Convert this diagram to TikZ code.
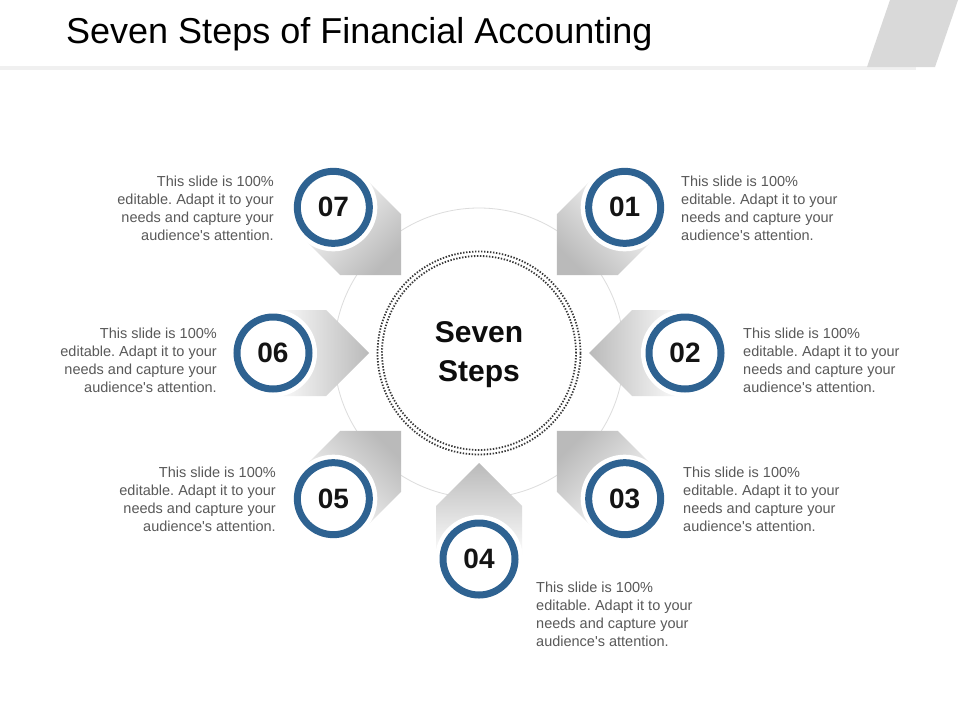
\documentclass[tikz,border=0pt]{standalone}
\usepackage{fontspec}
\setmainfont{Liberation Sans}
\usetikzlibrary{calc}
\frenchspacing
\definecolor{ringblue}{RGB}{46,98,145}
\definecolor{bodygray}{RGB}{89,89,89}
\definecolor{bandgray}{RGB}{240,240,240}
\definecolor{tabgray}{RGB}{217,217,217}
\definecolor{arcgray}{RGB}{220,220,220}
\definecolor{tipgray}{RGB}{186,186,186}
\definecolor{dotgray}{RGB}{55,55,55}
\begin{document}
\frenchspacing
\begin{tikzpicture}[x=1pt,y=1pt,
  bodytext/.style={text=bodygray, font=\fontsize{14.5}{18}\selectfont, inner sep=0pt},
  numlabel/.style={circle, draw=ringblue, line width=7pt, fill=white, minimum size=72pt, inner sep=0pt,
                   font=\fontsize{28}{30}\selectfont\bfseries, text=black!92},
  halo/.style={fill=white},
  pointer/.style={draw=none},
  dotring/.style={dotgray, line width=1.8pt, dash pattern=on 1.4pt off 1.6pt}]
\useasboundingbox (0,0) rectangle (960,-720);
\fill[white] (0,0) rectangle (960,-720);
\coordinate (C) at (479,-353);
% header
\fill[bandgray] (0,-66) rectangle (916,-70);
\fill[tabgray] (890,0) -- (958,0) -- (935,-67) -- (867,-67) -- cycle;
\node[anchor=base west, inner sep=0pt, font=\fontsize{36}{40}\selectfont] (title) at (66,-43) {Seven Steps of Financial Accounting};
% thin ring
\draw[arcgray, line width=0.8pt] (C) circle (145);
% pointers
\foreach \a [evaluate=\a as \sa using \a-90] in {45,0,-45,-90,-135,180,135}{
  \shade[pointer, bottom color=tipgray, top color=white, shading angle=\sa]
   ($(C)+(\a:110)$) -- ($(C)+(\a:153)+(\a+90:43)$) -- ($(C)+(\a:206)+(\a+90:43)$)
   -- ($(C)+(\a:206)+(\a-90:43)$) -- ($(C)+(\a:153)+(\a-90:43)$) -- cycle;
}
% centre
\fill[white] (C) circle (104);
\draw[dotring] (C) circle (101.5);
\draw[dotring] (C) circle (97);
\node[font=\fontsize{30}{39}\selectfont\bfseries, align=center, text=black!95] (centre) at ($(C)+(0,-2)$) {Seven\\Steps};
% steps
\foreach \a/\n in {45/01,0/02,-45/03,-90/04,-135/05,180/06,135/07}{
  \fill[halo] ($(C)+(\a:206)$) circle (44);
  \node[numlabel] (s\n) at ($(C)+(\a:206)$) {\n};
}
% texts
\node[bodytext, anchor=east, align=right] (t07) at (274,-208) {This slide is 100\%\\editable. Adapt it to your\\needs and capture your\\audience\textquotesingle s attention.};
\node[bodytext, anchor=east, align=right] (t06) at (217,-360) {This slide is 100\%\\editable. Adapt it to your\\needs and capture your\\audience\textquotesingle s attention.};
\node[bodytext, anchor=east, align=right] (t05) at (276,-499) {This slide is 100\%\\editable. Adapt it to your\\needs and capture your\\audience\textquotesingle s attention.};
\node[bodytext, anchor=west, align=left] (t01) at (681,-208) {This slide is 100\%\\editable. Adapt it to your\\needs and capture your\\audience\textquotesingle s attention.};
\node[bodytext, anchor=west, align=left] (t02) at (743,-360) {This slide is 100\%\\editable. Adapt it to your\\needs and capture your\\audience\textquotesingle s attention.};
\node[bodytext, anchor=west, align=left] (t03) at (683,-499) {This slide is 100\%\\editable. Adapt it to your\\needs and capture your\\audience\textquotesingle s attention.};
\node[bodytext, anchor=west, align=left] (t04) at (536,-614) {This slide is 100\%\\editable. Adapt it to your\\needs and capture your\\audience\textquotesingle s attention.};
\end{tikzpicture}
\end{document}
